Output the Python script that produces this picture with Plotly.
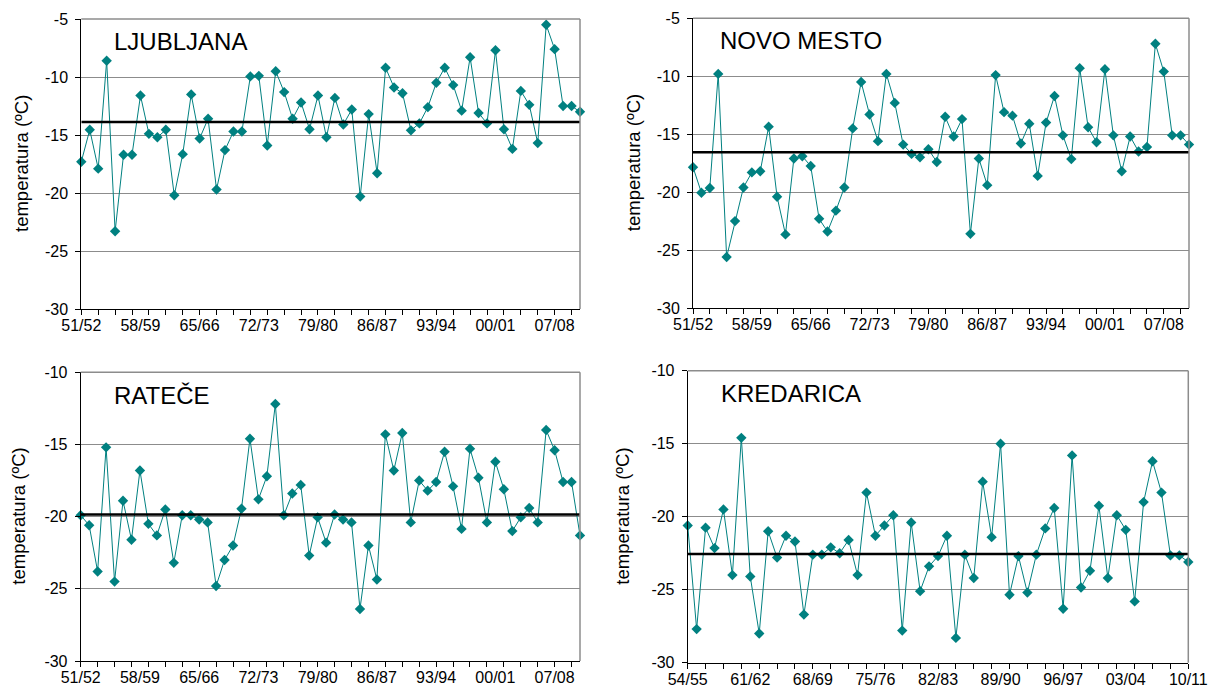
import plotly.graph_objects as go

# ---------------- data ----------------
seasons_a = ["51/52","52/53","53/54","54/55","55/56","56/57","57/58","58/59","59/60","60/61",
             "61/62","62/63","63/64","64/65","65/66","66/67","67/68","68/69","69/70","70/71",
             "71/72","72/73","73/74","74/75","75/76","76/77","77/78","78/79","79/80","80/81",
             "81/82","82/83","83/84","84/85","85/86","86/87","87/88","88/89","89/90","90/91",
             "91/92","92/93","93/94","94/95","95/96","96/97","97/98","98/99","99/00","00/01",
             "01/02","02/03","03/04","04/05","05/06","06/07","07/08","08/09","09/10","10/11"]
seasons_k = seasons_a[3:]

ljubljana = [-17.3,-14.55,-17.9,-8.6,-23.3,-16.7,-16.7,-11.6,-14.9,-15.2,
             -14.55,-20.2,-16.65,-11.5,-15.3,-13.6,-19.7,-16.3,-14.7,-14.7,
             -9.95,-9.9,-15.9,-9.5,-11.3,-13.6,-12.2,-14.5,-11.6,-15.2,
             -11.8,-14.1,-12.8,-20.3,-13.2,-18.3,-9.2,-10.9,-11.4,-14.6,
             -14.0,-12.6,-10.5,-9.2,-10.7,-12.9,-8.3,-13.1,-14.0,-7.7,
             -14.5,-16.2,-11.2,-12.4,-15.7,-5.5,-7.6,-12.5,-12.5,-13.0]
novo_mesto = [-17.85,-20.05,-19.65,-9.8,-25.6,-22.5,-19.6,-18.3,-18.2,-14.35,
              -20.4,-23.65,-17.1,-16.9,-17.75,-22.3,-23.4,-21.6,-19.6,-14.5,
              -10.5,-13.3,-15.6,-9.8,-12.3,-15.9,-16.7,-17.0,-16.3,-17.4,
              -13.5,-15.2,-13.7,-23.6,-17.1,-19.4,-9.9,-13.1,-13.4,-15.8,
              -14.1,-18.6,-14.0,-11.7,-15.1,-17.15,-9.3,-14.4,-15.7,-9.4,
              -15.1,-18.2,-15.2,-16.5,-16.1,-7.2,-9.6,-15.1,-15.1,-15.9]
ratece = [-19.9,-20.6,-23.8,-15.2,-24.5,-18.9,-21.6,-16.8,-20.5,-21.3,
          -19.5,-23.2,-19.9,-19.9,-20.2,-20.4,-24.8,-23.0,-22.0,-19.45,
          -14.6,-18.8,-17.2,-12.2,-19.9,-18.4,-17.8,-22.7,-20.05,-21.8,
          -19.85,-20.2,-20.4,-26.4,-22.0,-24.35,-14.3,-16.8,-14.2,-20.4,
          -17.5,-18.2,-17.6,-15.5,-17.9,-20.85,-15.3,-17.3,-20.4,-16.2,
          -18.1,-21.0,-20.05,-19.4,-20.4,-14.0,-15.4,-17.6,-17.6,-21.3]
kredarica = [-20.6,-27.7,-20.75,-22.15,-19.5,-24.0,-14.6,-24.1,-28.0,-21.0,
             -22.8,-21.3,-21.7,-26.7,-22.6,-22.6,-22.1,-22.5,-21.6,-24.0,
             -18.35,-21.3,-20.6,-19.9,-27.8,-20.4,-25.1,-23.4,-22.7,-21.3,
             -28.3,-22.6,-24.2,-17.6,-21.4,-15.0,-25.35,-22.7,-25.2,-22.6,
             -20.8,-19.4,-26.3,-15.8,-24.85,-23.7,-19.25,-24.2,-19.9,-20.9,
             -25.8,-19.0,-16.2,-18.35,-22.65,-22.65,-23.1]

means = {"LJUBLJANA": -13.88, "NOVO MESTO": -16.55, "RATEČE": -19.85, "KREDARICA": -22.55}
y_ticks = {"LJUBLJANA": [-30, -25, -20, -15, -10, -5],
           "NOVO MESTO": [-30, -25, -20, -15, -10, -5],
           "RATEČE": [-30, -25, -20, -15, -10],
           "KREDARICA": [-30, -25, -20, -15, -10]}
label_step = 7
tick_step = 2
y_title = "temperatura (ºC)"

# ---------------- layout geometry ----------------
W, H = 1215, 691
panels = [
    # name, values, seasons, x-domain px, y-domain px (top, bottom), title x px, label pos px
    ("LJUBLJANA", ljubljana, seasons_a, (81.3, 580.0), (19.0, 309.0), 22, (111.7, 42.0)),
    ("NOVO MESTO", novo_mesto, seasons_a, (693.0, 1189.0), (18.3, 308.0), 633, (718.0, 40.7)),
    ("RATEČE", ratece, seasons_a, (80.7, 580.0), (372.3, 661.0), 19, (112.0, 395.0)),
    ("KREDARICA", kredarica, seasons_k, (687.7, 1188.3), (370.7, 662.7), 623, (719.3, 393.3)),
]

TEAL = "#008080"
GRID = "#8c8c8c"
FONT = "Liberation Sans, Arial, sans-serif"

fig = go.Figure()
layout = dict(
    width=W, height=H,
    margin=dict(l=0, r=0, t=0, b=0, autoexpand=False),
    paper_bgcolor="white", plot_bgcolor="white",
    showlegend=False,
    font=dict(family=FONT, color="black", size=16),
    annotations=[], shapes=[],
)

for i, (name, vals, seas, (xl, xr), (yt, yb), tx, (lx, ly)) in enumerate(panels):
    n = i + 1
    on = n + 4
    xa = "x" if n == 1 else f"x{n}"
    ya = "y" if n == 1 else f"y{n}"
    xo = f"x{on}"
    xkey = "xaxis" if n == 1 else f"xaxis{n}"
    ykey = "yaxis" if n == 1 else f"yaxis{n}"
    okey = f"xaxis{on}"
    idx = list(range(len(vals)))
    last = len(vals) - 1

    # mean line on the overlay (label) axis, same range as the data axis
    fig.add_trace(go.Scatter(
        x=[0, last], y=[means[name]] * 2, xaxis=xo, yaxis=ya, mode="lines",
        line=dict(color="black", width=2.5), hoverinfo="skip",
    ))
    fig.add_trace(go.Scatter(
        x=idx, y=vals, xaxis=xa, yaxis=ya, mode="lines+markers",
        line=dict(color=TEAL, width=1),
        marker=dict(symbol="diamond", size=8, color=TEAL),
        cliponaxis=False, hoverinfo="x+y",
    ))

    xdom = [xl / W, xr / W]
    ydom = [1 - yb / H, 1 - yt / H]
    lab_vals = list(range(0, len(vals), label_step))
    # data axis: line + tick marks every 2 seasons
    layout[xkey] = dict(
        domain=xdom, anchor=ya, range=[0, last], automargin=False,
        tickmode="array", tickvals=list(range(0, len(vals), tick_step)),
        ticks="outside", ticklen=5, tickcolor="black", tickwidth=1,
        showticklabels=False, showgrid=False, zeroline=False,
        showline=True, linecolor="black", linewidth=1,
    )
    # overlay axis: season labels every 7 seasons
    layout[okey] = dict(
        overlaying=xa, anchor=ya, side="bottom", range=[0, last], domain=xdom,
        automargin=False,
        tickmode="array", tickvals=lab_vals, ticktext=[seas[k] for k in lab_vals],
        ticks="", ticklabelstandoff=5, showgrid=False, zeroline=False, showline=False,
        tickfont=dict(size=16, family=FONT, color="black"),
    )
    yt_vals = y_ticks[name]
    layout[ykey] = dict(
        domain=ydom, anchor=xa, range=[yt_vals[0], yt_vals[-1]], automargin=False,
        tickmode="array", tickvals=yt_vals, ticktext=[str(v) for v in yt_vals],
        ticks="outside", ticklen=5, tickcolor="black", ticklabelstandoff=4,
        showgrid=True, gridcolor=GRID, gridwidth=1, zeroline=False,
        showline=True, linecolor="black", linewidth=1,
        tickfont=dict(size=16, family=FONT, color="black"),
    )
    # grey frame on the top and right
    layout["shapes"].append(dict(type="line", xref=f"{xa} domain", yref=f"{ya} domain",
                                 x0=0, x1=1, y0=1, y1=1, line=dict(color=GRID, width=1.5)))
    layout["shapes"].append(dict(type="line", xref=f"{xa} domain", yref=f"{ya} domain",
                                 x0=1, x1=1, y0=0, y1=1, line=dict(color=GRID, width=1.5)))
    # station label
    layout["annotations"].append(dict(
        text=name, xref="paper", yref="paper", x=lx / W, y=1 - ly / H,
        xanchor="left", yanchor="middle", showarrow=False,
        font=dict(size=24, family=FONT, color="black"),
    ))
    # y-axis title
    layout["annotations"].append(dict(
        text=y_title, xref="paper", yref="paper", x=tx / W, y=1 - (yt + yb) / 2 / H,
        xanchor="center", yanchor="middle", textangle=-90, showarrow=False,
        font=dict(size=18.5, family=FONT, color="black"),
    ))

fig.update_layout(**layout)
fig.write_html(
    "out.html",
    config={"displayModeBar": False},
    post_script="document.body.style.margin='0';document.body.style.overflow='hidden';",
)
